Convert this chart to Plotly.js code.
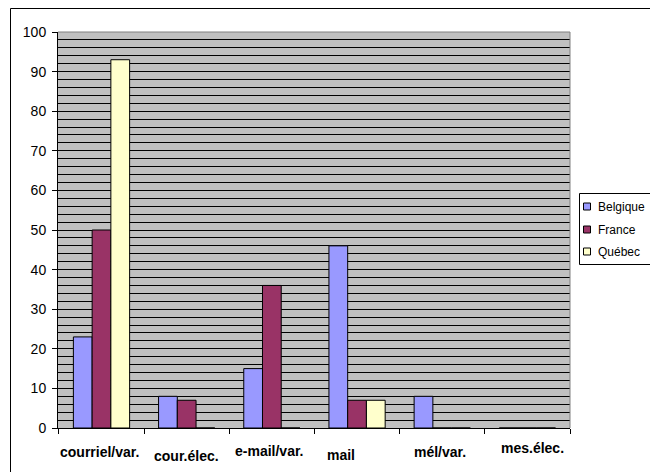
<!DOCTYPE html>
<html>
<head>
<meta charset="utf-8">
<script src="https://cdn.plot.ly/plotly-3.0.1.min.js"></script>
<style>
html,body{margin:0;padding:0;background:#fff;}
#chart{width:650px;height:472px;}
</style>
</head>
<body>
<div id="chart"></div>
<script>
const categories = ["courriel/var.", "cour.élec.", "e-mail/var.", "mail", "mél/var.", "mes.élec."];
const belgique = [23, 8, 15, 46, 8, 0];
const france = [50, 7, 36, 7, 0, 0];
const quebec = [93, 0, 0, 7, 0, 0];
const seriesNames = ["Belgique", "France", "Québec"];
const yTicks = [0, 10, 20, 30, 40, 50, 60, 70, 80, 90, 100];

// per-label vertical / horizontal offsets (Excel staggered labels)
const labelYShift = [-24, -28, -23, -27, -24, -20];
const labelXShift = [-2, 0, -2, -16, -2, 5];

const colors = ["#9999FF", "#993366", "#FFFFCC"];
const allData = [belgique, france, quebec];

// plot area geometry (pixels)
const W = 650, H = 472, ML = 58, MR = 80, MT = 32, MB = 44;
const PW = W - ML - MR, PH = H - MT - MB;
const px = x => (x - ML) / PW;
const py = y => (H - MB - y) / PH;

const traces = allData.map((vals, i) => ({
  type: "bar",
  name: seriesNames[i],
  x: categories,
  y: vals,
  marker: {color: colors[i], line: {color: "#000000", width: 1}},
  showlegend: false,
  hoverinfo: "x+y+name"
}));

const annotations = categories.map((c, i) => ({
  x: c, y: 0, xref: "x", yref: "y",
  text: "<b>" + c + "</b>",
  showarrow: false,
  yanchor: "middle",
  xanchor: "center",
  yshift: labelYShift[i],
  xshift: labelXShift[i],
  font: {family: "Liberation Sans, Arial, sans-serif", size: 14, color: "#000"}
}));

const shapes = [
  {type: "line", xref: "paper", yref: "paper", x0: 0, x1: 1, y0: 1, y1: 1, line: {color: "#808080", width: 1}},
  {type: "line", xref: "paper", yref: "paper", x0: 1, x1: 1, y0: 0, y1: 1, line: {color: "#808080", width: 1}},
  {type: "rect", xref: "paper", yref: "paper", x0: px(10.5), x1: px(700), y0: py(520), y1: py(8.5), line: {color: "#000000", width: 1}, fillcolor: "rgba(0,0,0,0)"},
  // legend box
  {type: "rect", xref: "paper", yref: "paper", x0: px(579.5), x1: px(700), y0: py(264.5), y1: py(193.5), line: {color: "#000000", width: 1}, fillcolor: "#ffffff"}
];

// manual legend (Excel style)
const legendCY = [206.5, 229.5, 251.5];
seriesNames.forEach((n, i) => {
  const cy = legendCY[i];
  shapes.push({type: "rect", xref: "paper", yref: "paper",
    x0: px(583.5), x1: px(590.5), y0: py(cy + 3.5), y1: py(cy - 3.5),
    line: {color: "#000000", width: 1}, fillcolor: colors[i]});
  annotations.push({xref: "paper", yref: "paper", x: px(596), y: py(cy),
    text: n, showarrow: false, xanchor: "left", yanchor: "middle",
    font: {family: "Liberation Sans, Arial, sans-serif", size: 12, color: "#000"}});
});

const layout = {
  width: W, height: H,
  margin: {l: ML, r: MR, t: MT, b: MB, autoexpand: false},
  paper_bgcolor: "#ffffff",
  plot_bgcolor: "#C0C0C0",
  barmode: "group",
  bargap: 0.34,
  bargroupgap: 0,
  font: {family: "Liberation Sans, Arial, sans-serif", size: 14, color: "#000"},
  xaxis: {
    type: "category",
    showticklabels: false,
    ticks: "outside",
    tickson: "boundaries",
    ticklen: 5,
    tickcolor: "#000",
    showline: true,
    linecolor: "#000",
    linewidth: 1,
    showgrid: false,
    zeroline: false,
    fixedrange: true
  },
  yaxis: {
    range: [0, 100],
    tickvals: yTicks,
    ticktext: yTicks.map(String),
    ticks: "outside",
    ticklen: 5,
    tickcolor: "#000",
    ticklabelstandoff: 3,
    showline: true,
    linecolor: "#000",
    linewidth: 1,
    showgrid: true,
    gridcolor: "#000000",
    gridwidth: 1,
    zeroline: false,
    minor: {dtick: 2, showgrid: true, gridcolor: "#000000", gridwidth: 1, ticks: ""},
    tickfont: {size: 14},
    fixedrange: true
  },
  showlegend: false,
  annotations: annotations,
  shapes: shapes
};

Plotly.newPlot("chart", traces, layout, {displayModeBar: false, staticPlot: true});
</script>
</body>
</html>
